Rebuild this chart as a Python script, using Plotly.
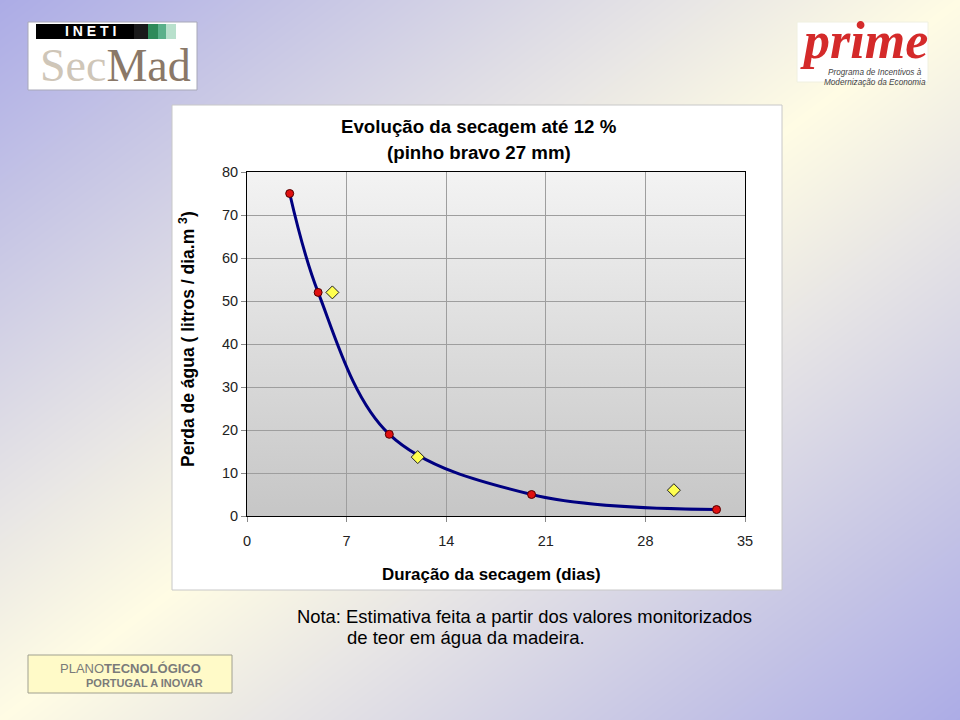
import plotly.graph_objects as go

# ---- data ----
dias_medidos = [3, 5, 10, 20, 33]
perda_medida = [75, 52, 19, 5, 1.5]
dias_estim = [6, 12, 30]
perda_estim = [52, 13.7, 6]
x_ticks = [0, 7, 14, 21, 28, 35]
y_ticks = [0, 10, 20, 30, 40, 50, 60, 70, 80]

W, H = 960, 720
PX0, PX1, PY0, PY1 = 247, 745, 172, 516  # plot area in pixels

def px(x):
    return x / W

def py(y):
    return 1 - y / H

def box(x0, y0, x1, y1, fill, line, lw=1):
    return go.Scatter(x=[x0, x1, x1, x0, x0], y=[y0, y0, y1, y1, y0], mode="lines",
                      fill="toself", fillcolor=fill, line=dict(color=line, width=lw),
                      hoverinfo="skip", showlegend=False, xaxis="x", yaxis="y")

fig = go.Figure()

# page background diagonal gradient
fig.add_trace(go.Heatmap(x=[0, W], y=[0, H], z=[[0, 0.5], [0.5, 1]], zsmooth="best",
                         colorscale=[[0, "#acace6"], [0.5, "#fffce4"], [1, "#acace6"]],
                         zmin=0, zmax=1, showscale=False, hoverinfo="skip",
                         xaxis="x", yaxis="y"))
# chart box
fig.add_trace(box(172, 105, 782, 590, "white", "#c8c8c8"))
# plot area gradient
fig.add_trace(go.Scatter(x=[PX0, PX1, PX1, PX0, PX0], y=[PY0, PY0, PY1, PY1, PY0], mode="lines",
                         fill="toself", line=dict(width=0),
                         fillgradient=dict(type="vertical",
                                           colorscale=[[0, "#c6c6c6"], [1, "#f3f3f3"]]),
                         hoverinfo="skip", showlegend=False, xaxis="x", yaxis="y"))
# logos boxes
fig.add_trace(box(28, 22, 197, 90, "white", "#a8a8b8"))
fig.add_trace(box(36, 24, 134, 39, "black", "black", 0))
fig.add_trace(box(134, 24, 148, 39, "#1a1a1a", "#1a1a1a", 0))
fig.add_trace(box(148, 24, 158, 39, "#2e8a5a", "#2e8a5a", 0))
fig.add_trace(box(158, 24, 166, 39, "#5ab08a", "#5ab08a", 0))
fig.add_trace(box(166, 24, 176, 39, "#b8e0cc", "#b8e0cc", 0))
fig.add_trace(box(797, 22, 928, 82, "white", "#f0f0e0"))
fig.add_trace(box(28, 655, 232, 693, "#fffac8", "#a0a090"))

# chart traces
fig.add_trace(go.Scatter(x=dias_medidos, y=perda_medida, mode="lines",
                         line=dict(color="#000080", width=3, shape="spline", smoothing=1.0),
                         hoverinfo="skip", showlegend=False, xaxis="x2", yaxis="y2"))
fig.add_trace(go.Scatter(x=dias_medidos, y=perda_medida, mode="markers",
                         marker=dict(color="#e01010", size=8, line=dict(color="#500000", width=1)),
                         showlegend=False, xaxis="x2", yaxis="y2"))
fig.add_trace(go.Scatter(x=dias_estim, y=perda_estim, mode="markers",
                         marker=dict(symbol="diamond", color="#ffff50", size=10,
                                     line=dict(color="#202020", width=1)),
                         showlegend=False, xaxis="x2", yaxis="y2"))

ann = []
def text(x, y, t, size, color="black", bold=False, xanchor="center", family="Liberation Sans, Arial",
         angle=0, yanchor="middle"):
    if bold:
        t = "<b>" + t + "</b>"
    ann.append(dict(x=px(x), y=py(y), xref="paper", yref="paper", text=t, showarrow=False,
                    xanchor=xanchor, yanchor=yanchor, textangle=angle,
                    font=dict(size=size, color=color, family=family)))

text(479, 126, "Evolução da secagem até 12 %", 18.7, bold=True)
text(479, 152, "(pinho bravo 27 mm)", 18.7, bold=True)
text(492, 574, "Duração da secagem (dias)", 16.9, bold=True)
text(187, 339, "Perda de água ( litros / dia.m <sup>3</sup>)", 17.5, bold=True, angle=-90)
text(295, 616, "Nota: Estimativa feita a partir dos valores monitorizados", 18.4, xanchor="left")
text(345, 637, "de teor em água da madeira.", 18.5, xanchor="left")
# logos text
text(90, 31, "I N E T I", 14, color="white", bold=True)
text(115, 65, "<span style='color:#cfc6b8'>Sec</span><span style='color:#8a7868'>Mad</span>", 46,
     family="Liberation Serif, Times New Roman")
text(864, 40, "<i>prime</i>", 52, color="#d42a2a", bold=True, family="Liberation Serif, Times New Roman")
text(826, 66, "<i>Programa de Incentivos à</i>", 8.2, color="#444444", xanchor="left", yanchor="top")
text(822, 76, "<i>Modernização da Economia</i>", 8.2, color="#444444", xanchor="left", yanchor="top")
text(130, 668, "PLANO<b>TECNOLÓGICO</b>", 13, color="#7a7a7a")
text(144, 683, "PORTUGAL A INOVAR", 11, color="#7a7a7a", bold=True)

tickfont = dict(size=14.5, color="#222222", family="Liberation Sans, Arial")
fig.update_layout(
    width=W, height=H, margin=dict(l=0, r=0, t=0, b=0, pad=0, autoexpand=False),
    paper_bgcolor="white", plot_bgcolor="rgba(0,0,0,0)",
    xaxis=dict(domain=[0, 1], range=[0, W], visible=False, fixedrange=True, automargin=False),
    yaxis=dict(domain=[0, 1], range=[H, 0], visible=False, fixedrange=True, automargin=False),
    xaxis2=dict(domain=[px(PX0), px(PX1)], range=[0, 35], tickvals=x_ticks, anchor="y2",
                automargin=False, ticklabelstandoff=7,
                showgrid=True, gridcolor="#9e9e9e", gridwidth=1, zeroline=False,
                showline=True, linecolor="black", linewidth=1, mirror=True,
                ticks="outside", ticklen=5, tickcolor="#888888", tickfont=tickfont),
    yaxis2=dict(domain=[py(PY1), py(PY0)], range=[0, 80], tickvals=y_ticks, anchor="x2",
                automargin=False,
                showgrid=True, gridcolor="#9e9e9e", gridwidth=1, zeroline=False,
                showline=True, linecolor="black", linewidth=1, mirror=True,
                ticks="outside", ticklen=5, tickcolor="#888888", tickfont=tickfont),
    annotations=ann,
)

fig.write_html("out.html")
